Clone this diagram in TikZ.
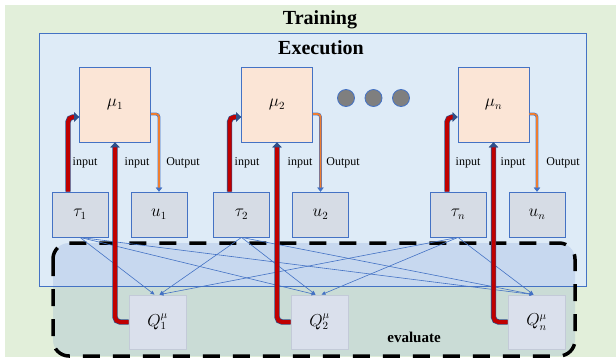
\documentclass[tikz,border=0pt]{standalone}
\usepackage{fontspec}
\setmainfont{Liberation Serif}
\usetikzlibrary{calc,arrows.meta}

\definecolor{trainbg}{HTML}{E2EFDA}
\definecolor{execbg}{HTML}{DEEBF7}
\definecolor{edgeblue}{HTML}{4472C4}
\definecolor{polbg}{HTML}{FBE5D6}
\definecolor{obsbg}{HTML}{D6DCE5}
\definecolor{critbg}{HTML}{DAE0EC}
\definecolor{critedge}{HTML}{C3CAD8}
\definecolor{inred}{HTML}{C00000}
\definecolor{outorange}{HTML}{ED7D31}
\definecolor{dotgray}{HTML}{7F7F7F}

\begin{document}
\begin{tikzpicture}[x=1pt, y=-1pt,
	policy/.style={draw=edgeblue, fill=polbg, line width=0.8pt, inner sep=0pt, minimum width=71pt, minimum height=75pt, font=\fontsize{16}{18}\selectfont},
	obs/.style={draw=edgeblue, fill=obsbg, line width=0.8pt, inner sep=0pt, minimum width=56pt, minimum height=45pt, font=\fontsize{16}{18}\selectfont},
	critic/.style={draw=critedge, fill=critbg, line width=0.8pt, inner sep=0pt, minimum width=57pt, minimum height=54pt, font=\fontsize{16}{18}\selectfont},
	lbl/.style={font=\fontsize{12}{14}\selectfont, inner sep=1pt},
	title/.style={font=\fontsize{20}{22}\selectfont\bfseries},
	inarrow/.style={draw=inred, line width=4pt, rounded corners=5pt, preaction={draw=edgeblue!70!black, line width=5.4pt}, -{Triangle[length=5pt, width=9pt, color=edgeblue!70!black]}},
	outarrow/.style={draw=outorange, line width=1.8pt, rounded corners=3pt, preaction={draw=edgeblue, line width=2.8pt}, -{Triangle[length=4pt, width=6pt, color=edgeblue]}},
	thinarrow/.style={draw=edgeblue, line width=0.6pt, -{Triangle[length=4pt, width=3.5pt]}}]
	%%%%% START %%%%%
	
	\useasboundingbox (0,0) rectangle (616,362);
	\fill[trainbg] (5,5) rectangle (616,357);
	\node[title] (train) at (320,20) {Training};
	
	\draw[edgeblue, fill=execbg, line width=0.8pt] (39,33) rectangle (586,286);
	\node[title] (exec) at (321,48) {Execution};
	
	% evaluation region
	\draw[black, line width=3.5pt, dash pattern=on 17pt off 13pt, rounded corners=16pt, fill=edgeblue, fill opacity=0.15] (53,243) rectangle (575,356);
	\node[font=\fontsize{15}{17}\selectfont\bfseries] (evallbl) at (414,337) {evaluate};
	
	% actors
	\node[policy] (m1) at (115,104.5) {$\mu_1$};
	\node[policy] (m2) at (277,104.5) {$\mu_2$};
	\node[policy] (mn) at (493.5,104.5) {$\mu_n$};
	
	\fill[dotgray, draw=edgeblue, line width=0.8pt] (346,98) circle (8.5);
	\fill[dotgray, draw=edgeblue, line width=0.8pt] (373.5,98) circle (8.5);
	\fill[dotgray, draw=edgeblue, line width=0.8pt] (401,98) circle (8.5);
	
	% observations and actions
	\node[obs] (t1) at (80,214.5) {$\tau_1$};
	\node[obs] (u1) at (159,214.5) {$u_1$};
	\node[obs] (t2) at (241.5,214.5) {$\tau_2$};
	\node[obs] (u2) at (320.5,214.5) {$u_2$};
	\node[obs] (tn) at (458,214.5) {$\tau_n$};
	\node[obs] (un) at (537,214.5) {$u_n$};
	
	% critics
	\node[critic] (q1) at (157.5,322) {$Q_1^{\mu}$};
	\node[critic] (q2) at (319.5,322) {$Q_2^{\mu}$};
	\node[critic] (qn) at (536.5,322) {$Q_n^{\mu}$};
	
	% observations to critics
	\draw[thinarrow] (t1.south) -- ($(q1.north)+(-3,0)$);
	\draw[thinarrow] (t1.south) -- ($(q2.north)+(-4,0)$);
	\draw[thinarrow] (t1.south) -- ($(qn.north)+(-3,0)$);
	\draw[thinarrow] (t2.south) -- ($(q1.north)+(2,0)$);
	\draw[thinarrow] (t2.south) -- ($(q2.north)+(-4,0)$);
	\draw[thinarrow] (t2.south) -- ($(qn.north)+(-3,0)$);
	\draw[thinarrow] (tn.south) -- ($(q1.north)+(2,0)$);
	\draw[thinarrow] (tn.south) -- ($(q2.north)+(2,0)$);
	\draw[thinarrow] (tn.south) -- ($(qn.north)+(-3,0)$);
	
	% inputs and outputs
	\draw[inarrow] ($(t1.north)+(-12,0)$) |- ($(m1.west)+(0,12.5)$);
	\draw[inarrow] (q1.west) -| (m1.south);
	\draw[outarrow] ($(m1.east)+(0,9.5)$) -| (u1.north);
	\node[lbl] (in1a) at (85,163) {input};
	\node[lbl] (in1b) at (137,163) {input};
	\node[lbl] (out1) at (183,163) {Output};
	
	\draw[inarrow] ($(t2.north)+(-12,0)$) |- ($(m2.west)+(0,12.5)$);
	\draw[inarrow] (q2.west) -| (m2.south);
	\draw[outarrow] ($(m2.east)+(0,9.5)$) -| (u2.north);
	\node[lbl] (in2a) at (247,163) {input};
	\node[lbl] (in2b) at (300,163) {input};
	\node[lbl] (out2) at (343,163) {Output};
	
	\draw[inarrow] ($(tn.north)+(-11,0)$) |- ($(mn.west)+(0,12.5)$);
	\draw[inarrow] (qn.west) -| (mn.south);
	\draw[outarrow] ($(mn.east)+(0,9.5)$) -| (un.north);
	\node[lbl] (inna) at (468,163) {input};
	\node[lbl] (innb) at (513,163) {input};
	\node[lbl] (outn) at (563,163) {Output};
	
	%%%%% END %%%%%
\end{tikzpicture}
\end{document}
